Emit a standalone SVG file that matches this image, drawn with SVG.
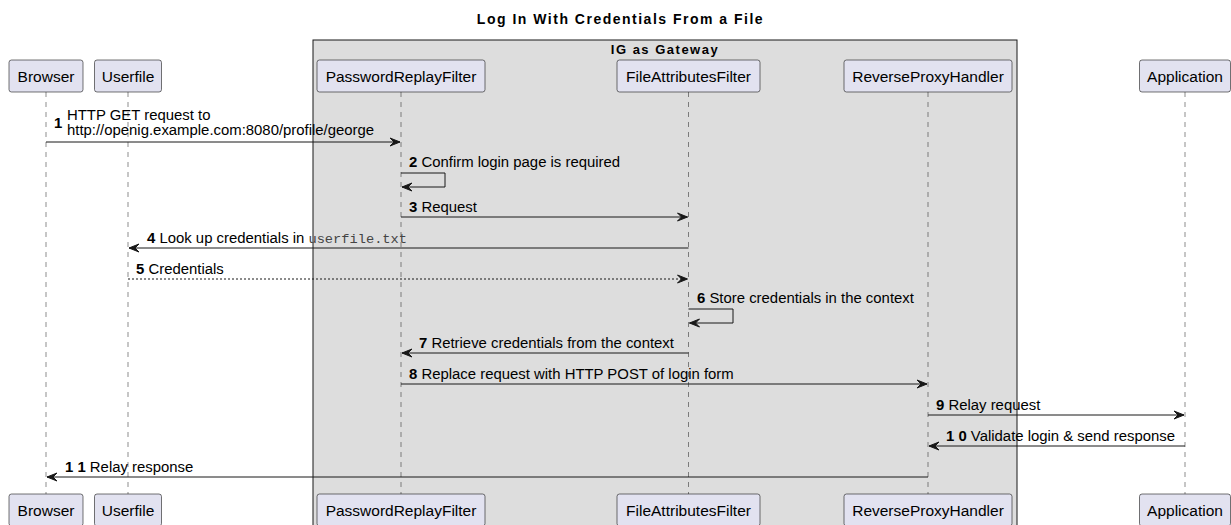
<svg xmlns="http://www.w3.org/2000/svg" width="1231" height="525" viewBox="0 0 1231 525">
<style>
.t{font-family:"Liberation Sans",Arial,sans-serif;font-size:14.9px;fill:#000}
.b{font-weight:bold}
.mono{font-family:"Liberation Mono","Courier New",monospace;font-size:13.7px;fill:#444}
.title{font-family:"Liberation Sans",Arial,sans-serif;font-size:14px;font-weight:bold;letter-spacing:1.5px;fill:#000}
.gl{font-family:"Liberation Sans",Arial,sans-serif;font-size:13px;font-weight:bold;letter-spacing:1.5px;fill:#000}
.p rect{fill:#E2E2F0;stroke:#181818;stroke-width:0.6}
.p text{font-family:"Liberation Sans",Arial,sans-serif;font-size:15.5px;fill:#000;text-anchor:middle}
.life{stroke:#181818;stroke-width:0.5;stroke-dasharray:5,5;fill:none}
.m{stroke:#181818;stroke-width:1;fill:none;marker-end:url(#ah)}
.d{stroke-dasharray:2,2}
</style>
<defs>
<marker id="ah" markerUnits="userSpaceOnUse" markerWidth="14" markerHeight="12" refX="10" refY="4" orient="auto" overflow="visible">
<path d="M0,0 L10,4 L0,8 L4,4 Z" fill="#181818" stroke="#181818" stroke-width="1"/>
</marker>
</defs>
<rect width="1231" height="525" fill="#fff"/>
<text class="title" x="620.5" y="24" text-anchor="middle">Log In With Credentials From a File</text>
<g id="box-ig">
<rect x="313" y="40" width="704" height="495" fill="#DDDDDD" stroke="#181818" stroke-width="1"/>
<text class="gl" x="665" y="53.5" text-anchor="middle">IG as Gateway</text>
</g>
<g id="lifelines">
<line class="life" x1="46" y1="92" x2="46" y2="494"/>
<line class="life" x1="128" y1="92" x2="128" y2="494"/>
<line class="life" x1="401" y1="92" x2="401" y2="494"/>
<line class="life" x1="688.5" y1="92" x2="688.5" y2="494"/>
<line class="life" x1="928" y1="92" x2="928" y2="494"/>
<line class="life" x1="1185" y1="92" x2="1185" y2="494"/>
</g>
<g id="browser" class="p">
<rect x="9" y="60" width="74" height="32" rx="2.5"/><text x="46" y="81.5">Browser</text>
<rect x="9" y="494" width="74" height="32" rx="2.5"/><text x="46" y="515.5">Browser</text>
</g>
<g id="userfile" class="p">
<rect x="94.5" y="60" width="67" height="32" rx="2.5"/><text x="128" y="81.5">Userfile</text>
<rect x="94.5" y="494" width="67" height="32" rx="2.5"/><text x="128" y="515.5">Userfile</text>
</g>
<g id="passwordreplayfilter" class="p">
<rect x="317" y="60" width="168" height="32" rx="2.5"/><text x="401" y="81.5">PasswordReplayFilter</text>
<rect x="317" y="494" width="168" height="32" rx="2.5"/><text x="401" y="515.5">PasswordReplayFilter</text>
</g>
<g id="fileattributesfilter" class="p">
<rect x="617" y="60" width="143" height="32" rx="2.5"/><text x="688.5" y="81.5">FileAttributesFilter</text>
<rect x="617" y="494" width="143" height="32" rx="2.5"/><text x="688.5" y="515.5">FileAttributesFilter</text>
</g>
<g id="reverseproxyhandler" class="p">
<rect x="844" y="60" width="168" height="32" rx="2.5"/><text x="928" y="81.5">ReverseProxyHandler</text>
<rect x="844" y="494" width="168" height="32" rx="2.5"/><text x="928" y="515.5">ReverseProxyHandler</text>
</g>
<g id="application" class="p">
<rect x="1139.5" y="60" width="91" height="32" rx="2.5"/><text x="1185" y="81.5">Application</text>
<rect x="1139.5" y="494" width="91" height="32" rx="2.5"/><text x="1185" y="515.5">Application</text>
</g>
<g id="connectors">
<line class="m" x1="46" y1="142" x2="400" y2="142"/>
<text class="t b" x="54" y="128">1</text>
<text class="t" x="67" y="120">HTTP GET request to</text>
<text class="t" x="67" y="135">http://openig.example.com:8080/profile/george</text>

<polyline class="m" points="401,173 445,173 445,187 402,187"/>
<text class="t" x="409" y="167"><tspan class="b">2</tspan> Confirm login page is required</text>

<line class="m" x1="401" y1="217" x2="687.5" y2="217"/>
<text class="t" x="409" y="211.5"><tspan class="b">3</tspan> Request</text>

<line class="m" x1="688.5" y1="248" x2="129" y2="248"/>
<text class="t" x="147" y="242.5"><tspan class="b">4</tspan> Look up credentials in <tspan class="mono">userfile.txt</tspan></text>

<line class="m d" x1="128" y1="279" x2="687.5" y2="279"/>
<text class="t" x="136" y="273.5"><tspan class="b">5</tspan> Credentials</text>

<polyline class="m" points="688.5,309 733,309 733,323 689.5,323"/>
<text class="t" x="697" y="303"><tspan class="b">6</tspan> Store credentials in the context</text>

<line class="m" x1="688.5" y1="353" x2="402" y2="353"/>
<text class="t" x="419" y="347.5"><tspan class="b">7</tspan> Retrieve credentials from the context</text>

<line class="m" x1="401" y1="384" x2="927" y2="384"/>
<text class="t" x="409" y="378.5"><tspan class="b">8</tspan> Replace request with HTTP POST of login form</text>

<line class="m" x1="928" y1="415" x2="1184" y2="415"/>
<text class="t" x="936" y="409.5"><tspan class="b">9</tspan> Relay request</text>

<line class="m" x1="1185" y1="446" x2="929" y2="446"/>
<text class="t" x="946" y="440.5"><tspan class="b">1 0</tspan> Validate login &amp; send response</text>

<line class="m" x1="928" y1="477" x2="47" y2="477"/>
<text class="t" x="65" y="471.5"><tspan class="b">1 1</tspan> Relay response</text>
</g>
</svg>
